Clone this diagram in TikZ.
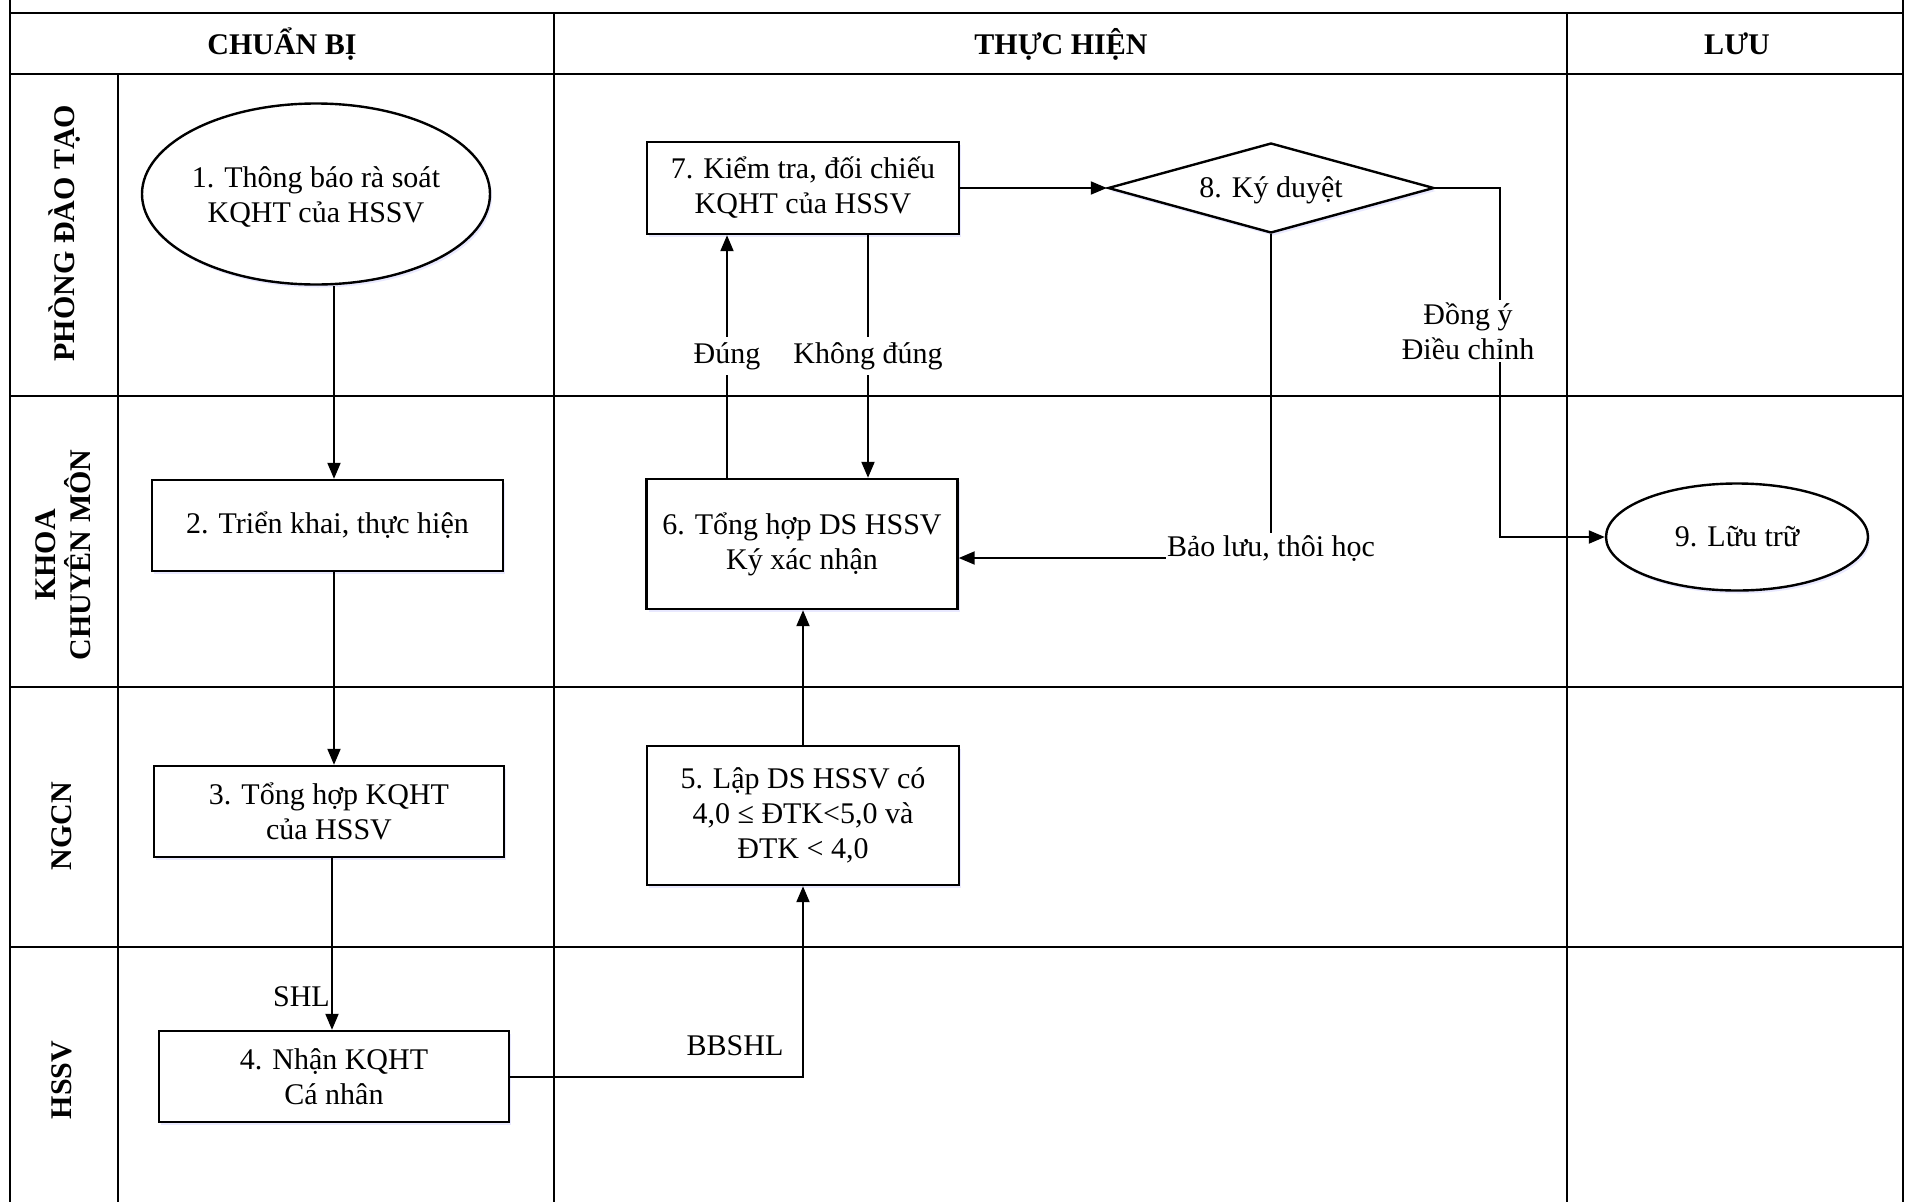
\documentclass[tikz,border=0pt]{standalone}
\usepackage{fontspec}
\setmainfont{Liberation Serif}
\usetikzlibrary{shapes.geometric,arrows.meta,shadows}

\begin{document}
\begin{tikzpicture}[x=1pt,y=-1pt,
  grid/.style={line width=2pt},
  lbl/.style={font=\fontsize{30}{35}\selectfont, align=center, inner sep=0pt},
  hdr/.style={font=\fontsize{30}{35}\selectfont\bfseries, align=center, inner sep=0pt},
  lane/.style={hdr, rotate=90},
  glow/.style={drop shadow={fill=blue!12, opacity=.7, shadow xshift=2pt, shadow yshift=-3pt}},
  box/.style={draw, line width=2.4pt, fill=white, rectangle, align=center, inner sep=0pt, font=\fontsize{30}{35}\selectfont, glow},
  oval/.style={box, ellipse},
  dia/.style={box, diamond},
  arr/.style={line width=2pt, -{Triangle[length=16pt,width=13pt]}},
  ln/.style={line width=2pt},
  cut/.style={lbl, fill=white, inner xsep=2pt, inner ysep=5pt}
]
\useasboundingbox (0,0) rectangle (1905,1202);
\fill[white] (0,0) rectangle (1905,1202);

% frame and swimlane grid
\draw[grid] (10,0) -- (10,1202);
\draw[grid] (1903,0) -- (1903,1202);
\draw[grid] (10,13) -- (1903,13);
\draw[grid] (10,74) -- (1903,74);
\draw[grid] (10,396) -- (1903,396);
\draw[grid] (10,687) -- (1903,687);
\draw[grid] (10,947) -- (1903,947);
\draw[grid] (118,74) -- (118,1202);
\draw[grid] (554,13) -- (554,1202);
\draw[grid] (1567,13) -- (1567,1202);

% headers
\node[hdr] (h1) at (282,44) {CHUẨN BỊ};
\node[hdr] (h2) at (1061,44) {THỰC HIỆN};
\node[hdr] (h3) at (1737,44) {LƯU};

% lane titles
\node[lane] (l1) at (65,233) {PHÒNG ĐÀO TẠO};
\node[lane] (l2) at (63,555) {KHOA\\CHUYÊN MÔN};
\node[lane] (l3) at (62,826) {NGCN};
\node[lane] (l4) at (62,1080) {HSSV};

% shapes
\node[oval, minimum width=348pt, minimum height=181pt] (e1) at (316,194) {};
\node[lbl] (t1) at (316,197) {1. Thông báo rà soát\\KQHT của HSSV};
\node[box, minimum width=351pt, minimum height=91pt] (b2) at (327.5,525.5) {2. Triển khai, thực hiện};
\node[box, minimum width=350pt, minimum height=91pt] (b3) at (329,811.5) {3. Tổng hợp KQHT\\của HSSV};
\node[box, minimum width=350pt, minimum height=91pt] (b4) at (334,1076.5) {4. Nhận KQHT\\Cá nhân};
\node[box, minimum width=312pt, minimum height=139pt] (b5) at (803,815.5) {5. Lập DS HSSV có\\4,0 ≤ ĐTK<5,0 và\\ĐTK < 4,0};
\node[box, minimum width=311pt, minimum height=130pt] (b6) at (802,544) {6. Tổng hợp DS HSSV\\Ký xác nhận};
\node[box, minimum width=312pt, minimum height=92pt] (b7) at (803,188) {7. Kiểm tra, đối chiếu\\KQHT của HSSV};
\node[dia, minimum width=326pt, minimum height=90pt] (d8) at (1271,188) {};
\node[lbl] (t8) at (1271,190) {8. Ký duyệt};
\node[oval, minimum width=262pt, minimum height=107pt] (e9) at (1737,537) {};
\node[lbl] (t9) at (e9) {9. Lữu trữ};

% helper coordinates
\coordinate (cA) at (334,0);
\coordinate (cB) at (332,0);
\coordinate (cD) at (727,0);
\coordinate (cK) at (868,0);
\coordinate (k6) at (1271,558);
\coordinate (k9) at (1500,537);

% connectors
\draw[arr] (e1.south -| cA) -- (b2.north -| cA);
\draw[arr] (b2.south -| cA) -- (b3.north -| cA);
\draw[arr] (b3.south -| cB) -- (b4.north -| cB);
\draw[arr] (b4.east) -| (b5.south);
\draw[arr] (b5.north) -- (b5.north |- b6.south);
\draw[arr] (b6.north -| cD) -- (b7.south -| cD);
\draw[arr] (b7.south -| cK) -- (b6.north -| cK);
\draw[arr] (b7.east) -- (d8.west);
\draw[arr] (d8.south) -- (k6) -- (k6 -| b6.east);
\draw[arr] (d8.east) -| (k9) -- (e9.west);

% connector labels
\node[lbl, anchor=east] (shl) at (330,997) {SHL};
\node[lbl] (bbshl) at (735,1046) {BBSHL};
\node[cut] (dung) at (727,356) {Đúng};
\node[cut] (kdung) at (868,356) {Không đúng};
\node[cut, inner xsep=1pt, inner ysep=3pt] (bl) at (1271,549) {Bảo lưu, thôi học};
\node[cut, inner ysep=2pt] (dy) at (1468,331) {Đồng ý\\Điều chỉnh};
\end{tikzpicture}
\end{document}
